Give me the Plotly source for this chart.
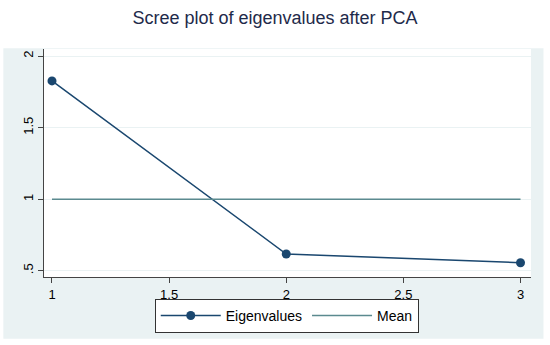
import plotly.graph_objects as go

components = [1, 2, 3]
eigenvalues = [1.827, 0.617, 0.556]
mean_value = [1.0, 1.0, 1.0]
x_ticks = [1, 1.5, 2, 2.5, 3]
x_ticklabels = ["1", "1.5", "2", "2.5", "3"]
y_ticks = [0.5, 1, 1.5, 2]
y_ticklabels = [".5", "1", "1.5", "2"]

W, H = 550, 345
L, R, T, B = 44, 531.5, 48.5, 277
pw, ph = R - L, B - T

def px(x):
    return (x - L) / pw

def py(y):
    return (B - y) / ph

fig = go.Figure()
fig.add_trace(go.Scatter(
    x=components, y=eigenvalues, name="Eigenvalues", mode="lines+markers",
    line=dict(color="#1A476F", width=1.5),
    marker=dict(color="#1A476F", size=9),
))
fig.add_trace(go.Scatter(
    x=components, y=mean_value, name="Mean", mode="lines",
    line=dict(color="#5B8A8F", width=1.5),
))

fig.update_layout(
    width=W, height=H,
    margin=dict(l=L, r=W - R, t=T, b=H - B, pad=0, autoexpand=False),
    paper_bgcolor="white",
    plot_bgcolor="white",
    title=dict(text="Scree plot of eigenvalues after PCA", x=0.5, xanchor="center",
               y=1 - 18 / H, yanchor="middle",
               font=dict(family="Liberation Sans, Arial", size=18, color="#1E2A4A")),
    font=dict(family="Liberation Sans, Arial", size=13, color="black"),
    showlegend=True,
    legend=dict(orientation="h", x=px(287), xanchor="center", y=py(316), yanchor="middle",
                bgcolor="white", bordercolor="#333333", borderwidth=1,
                font=dict(size=14), itemwidth=60, tracegroupgap=0),
    shapes=[
        dict(type="rect", xref="paper", yref="paper", layer="below",
             x0=px(3.3), x1=px(544), y0=py(339), y1=py(47.7),
             fillcolor="#EAF2F3", line=dict(width=0)),
        dict(type="rect", xref="paper", yref="paper", layer="below",
             x0=0, x1=1, y0=0, y1=1,
             fillcolor="white", line=dict(width=0)),
    ],
)

fig.update_xaxes(
    range=[1 - 8 / 234.5, 3 + 10.5 / 234.5],
    tickvals=x_ticks, ticktext=x_ticklabels,
    showgrid=False, zeroline=False,
    showline=True, linecolor="#444444", linewidth=1,
    ticks="outside", ticklen=5, tickcolor="#444444",
    tickfont=dict(size=13),
)
fig.update_yaxes(
    range=[0.5 - 6.3 / 143.3, 2 + 7.2 / 143.3],
    tickvals=y_ticks, ticktext=y_ticklabels, tickangle=-90,
    showgrid=True, gridcolor="#EAF2F3", gridwidth=1,
    zeroline=False,
    showline=True, linecolor="#444444", linewidth=1,
    ticks="outside", ticklen=5, tickcolor="#444444",
    tickfont=dict(size=13),
)

fig.write_html(
    "out.html",
    config={"displayModeBar": False},
    post_script="document.body.style.margin='0';document.body.style.overflow='hidden';",
)
